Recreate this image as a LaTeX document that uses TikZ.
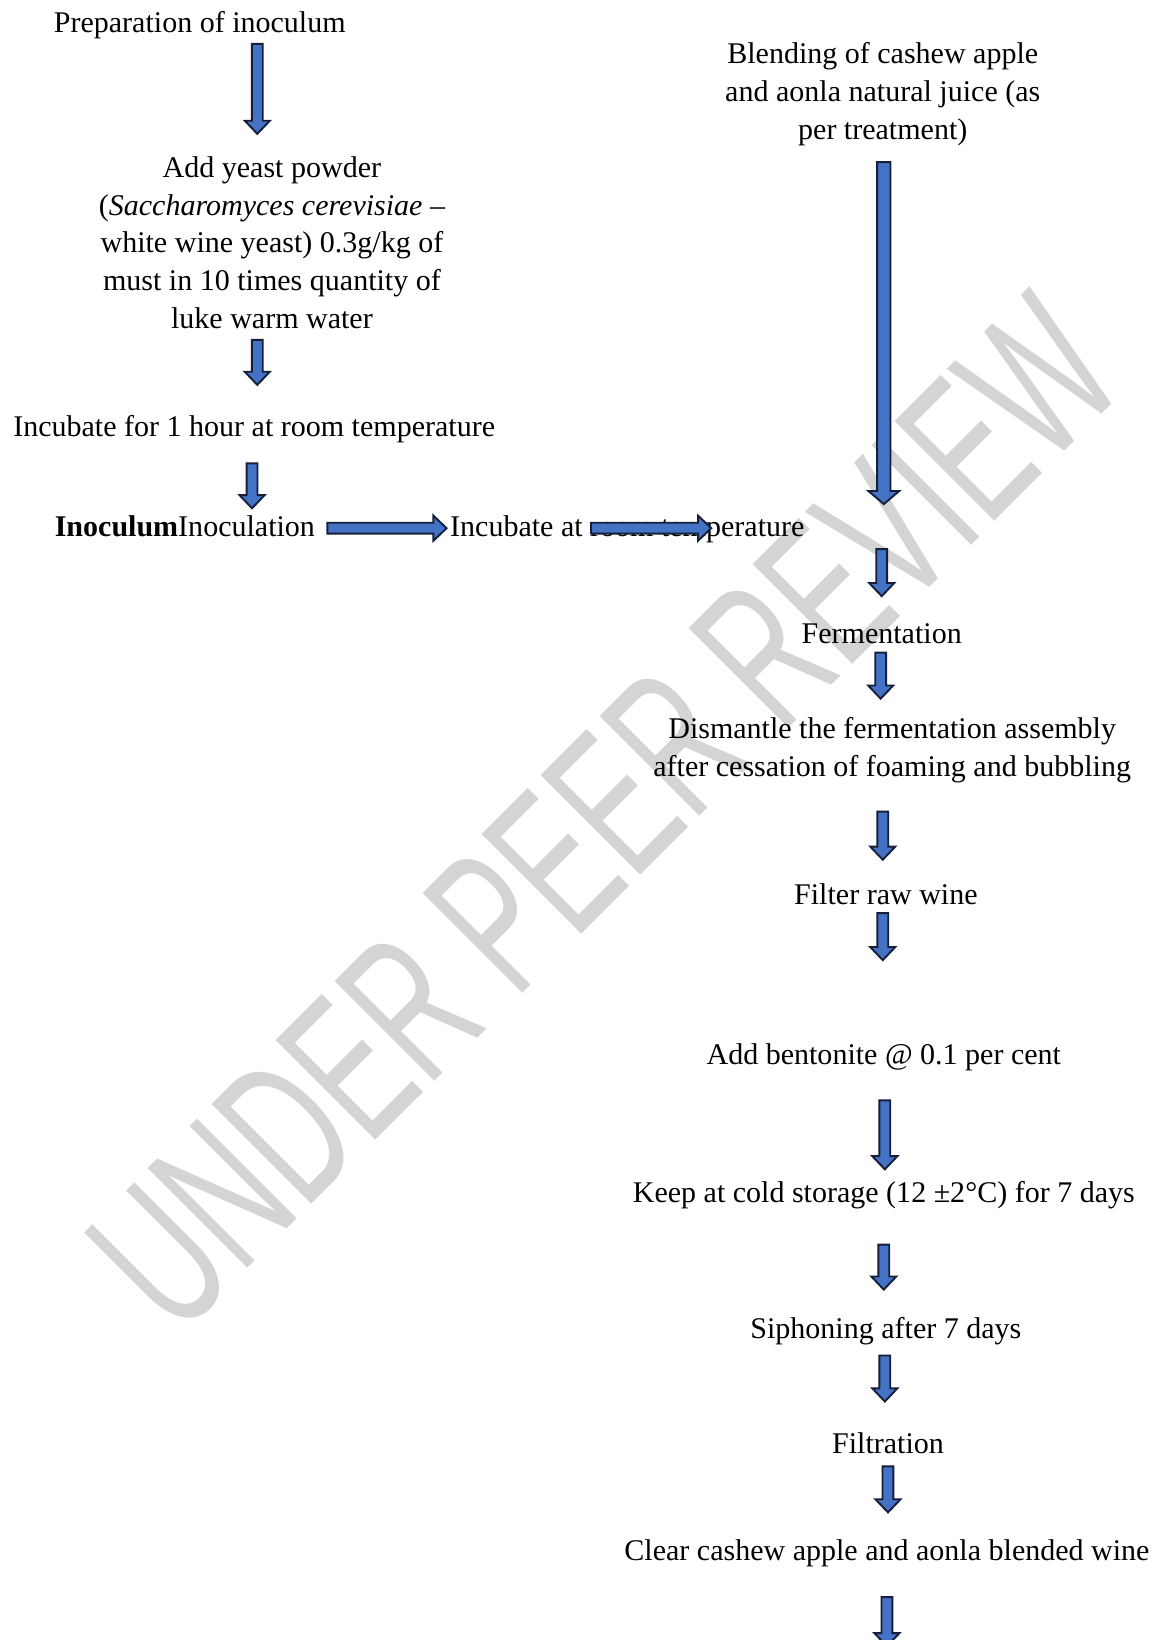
\documentclass[tikz,border=0pt]{standalone}
\usepackage{fontspec}
\setmainfont{Liberation Serif}
\newfontfamily\wmfont{Liberation Sans}
\usetikzlibrary{calc}
\definecolor{arrowfill}{RGB}{68,114,196}
\definecolor{arrowedge}{RGB}{22,30,58}
\definecolor{wmgray}{RGB}{212,212,212}
\tikzset{
  stage/.style={inner sep=0pt, align=center, font=\fontsize{14.35}{18}\selectfont},
  wmark/.style={inner sep=0pt, text=wmgray, font=\wmfont\fontsize{98}{98}\selectfont, rotate=45, xscale=0.61},
  blkshape/.style 2 args={draw=arrowedge, fill=arrowfill, line width=0.9pt,
    to path={let \p1=($(\tikztotarget)!6.3pt!(\tikztostart)$) in
      ($(\tikztostart)!#1!90:(\tikztotarget)$) -- ($(\p1)!#1!90:(\tikztotarget)$)
      -- ($(\p1)!#2!90:(\tikztotarget)$) -- (\tikztotarget)
      -- ($(\p1)!#2!-90:(\tikztotarget)$) -- ($(\p1)!#1!-90:(\tikztotarget)$)
      -- ($(\tikztostart)!#1!-90:(\tikztotarget)$) -- cycle}},
  blk/.style={blkshape={2.6pt}{6pt}},
  blkwide/.style={blkshape={3.2pt}{7.4pt}}
}

\begin{document}
\begin{tikzpicture}[x=0.5pt, y=-0.5pt]
        \useasboundingbox (0,0) rectangle (1106,1568);
        % Watermark
        \node[wmark] (wm) at (578,778) {UNDER PEER REVIEW};
        % Left column
        \node[stage] (prep) at (191,24) {Preparation of inoculum};
        \node[stage] (yeast) at (260,232) {Add yeast powder\\(\textit{Saccharomyces cerevisiae} --\\white wine yeast) 0.3g/kg of\\must in 10 times quantity of\\luke warm water};
        \node[stage] (incub) at (243,410) {Incubate for 1 hour at room temperature};
        \node[stage, anchor=base west] (inoc) at (52,513) {\textbf{Inoculum}Inoculation};
        \node[stage, anchor=base west] (incubrt) at (430,513) {Incubate at room temperature};
        % Right column
        \node[stage] (blend) at (844,90) {Blending of cashew apple\\and aonla natural juice (as\\per treatment)};
        \node[stage] (ferm) at (843,606) {Fermentation};
        \node[stage] (dism) at (853,717) {Dismantle the fermentation assembly\\after cessation of foaming and bubbling};
        \node[stage] (filt) at (847,855) {Filter raw wine};
        \node[stage] (bent) at (845,1011) {Add bentonite @ 0.1 per cent};
        \node[stage] (cold) at (845,1143) {Keep at cold storage (12 ±2°C) for 7 days};
        \node[stage] (siph) at (847,1273) {Siphoning after 7 days};
        \node[stage] (filtr) at (849,1380) {Filtration};
        \node[stage] (clear) at (848,1485) {Clear cashew apple and aonla blended wine};
        % Arrows, left column
        \coordinate (a1t) at (246,42); \coordinate (a1b) at (246,128);
        \draw[blk] (a1t) to (a1b);
        \coordinate (a2t) at (246,325); \coordinate (a2b) at (246,368);
        \draw[blk] (a2t) to (a2b);
        \coordinate (a3t) at (241,443); \coordinate (a3b) at (241,486);
        \draw[blk] (a3t) to (a3b);
        % Arrows across
        \coordinate (r1l) at (313,505); \coordinate (r1r) at (427,505);
        \draw[blk] (r1l) to (r1r);
        \coordinate (r2l) at (565,505); \coordinate (r2r) at (680,505);
        \draw[blk] (r2l) to (r2r);
        % Arrows, right column
        \coordinate (b0t) at (845,155); \coordinate (b0b) at (845,482);
        \draw[blkwide] (b0t) to (b0b);
        \coordinate (b1t) at (843,525); \coordinate (b1b) at (843,570);
        \draw[blk] (b1t) to (b1b);
        \coordinate (b2t) at (842,624); \coordinate (b2b) at (842,668);
        \draw[blk] (b2t) to (b2b);
        \coordinate (b3t) at (844,776); \coordinate (b3b) at (844,822);
        \draw[blk] (b3t) to (b3b);
        \coordinate (b4t) at (844,873); \coordinate (b4b) at (844,918);
        \draw[blk] (b4t) to (b4b);
        \coordinate (b5t) at (846,1052); \coordinate (b5b) at (846,1118);
        \draw[blk] (b5t) to (b5b);
        \coordinate (b6t) at (845,1190); \coordinate (b6b) at (845,1233);
        \draw[blk] (b6t) to (b6b);
        \coordinate (b7t) at (846,1296); \coordinate (b7b) at (846,1340);
        \draw[blk] (b7t) to (b7b);
        \coordinate (b8t) at (849,1402); \coordinate (b8b) at (849,1446);
        \draw[blk] (b8t) to (b8b);
        \coordinate (b9t) at (848,1527); \coordinate (b9b) at (848,1574);
        \draw[blk] (b9t) to (b9b);
\end{tikzpicture}
\end{document}
